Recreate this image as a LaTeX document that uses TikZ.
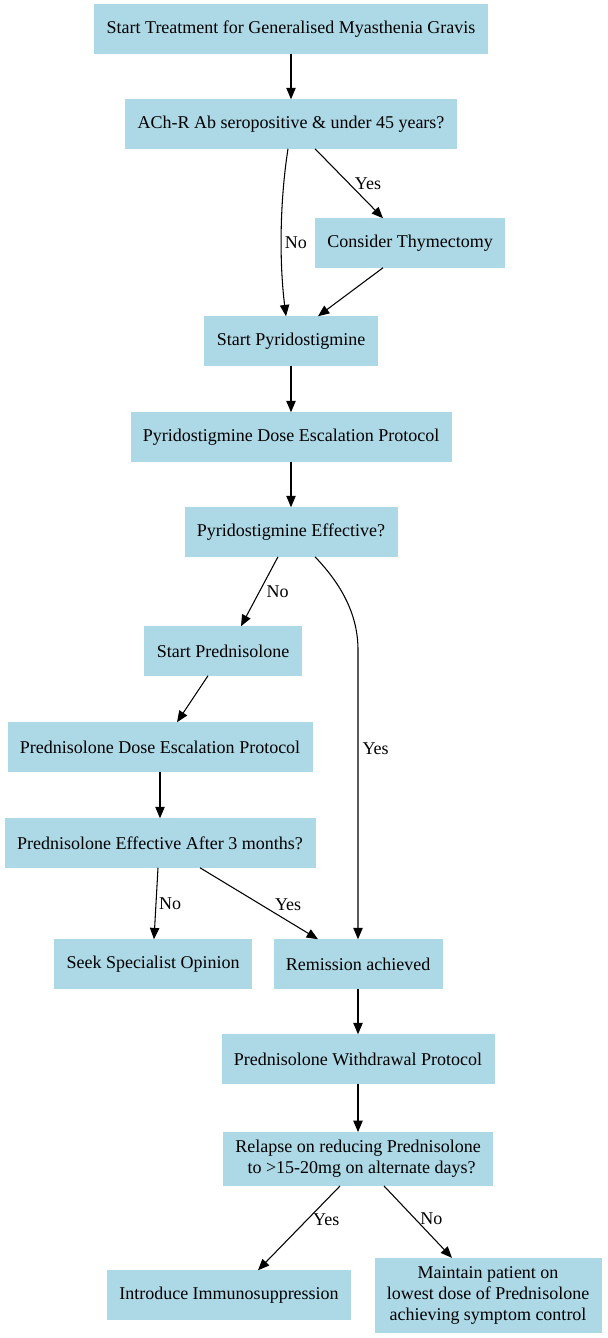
\documentclass[tikz,border=0pt]{standalone}
\usepackage{fontspec}
\setmainfont{Liberation Serif}
\usepackage{tikz}
\usetikzlibrary{arrows.meta, positioning, calc}

\definecolor{boxblue}{HTML}{ADD8E6}

\begin{document}
\begin{tikzpicture}[x=0.75pt, y=-0.75pt,
  font=\fontsize{13.5}{15.75}\selectfont,
  box/.style={fill=boxblue, draw=boxblue, align=center, inner xsep=9pt, inner ysep=6pt, minimum height=36.75pt},
  flow/.style={-{Triangle[length=8.5pt, width=7pt]}, line width=0.8pt},
  lbl/.style={inner sep=1pt}]
\useasboundingbox (0,0) rectangle (607,1338);

% Knoten
\node[box] (start) at (291,29) {Start Treatment for Generalised Myasthenia Gravis};
\node[box] (q1) at (291,124) {ACh-R Ab seropositive \& under 45 years?};
\node[box] (thy) at (410,243) {Consider Thymectomy};
\node[box] (pyr) at (291,341) {Start Pyridostigmine};
\node[box] (esc1) at (291,437) {Pyridostigmine Dose Escalation Protocol};
\node[box] (eff1) at (291,532) {Pyridostigmine Effective?};
\node[box] (pred) at (223,651) {Start Prednisolone};
\node[box] (esc2) at (160,747) {Prednisolone Dose Escalation Protocol};
\node[box] (eff2) at (160,843) {Prednisolone Effective After 3 months?};
\node[box] (spec) at (153,964) {Seek Specialist Opinion};
\node[box] (rem) at (358,964) {Remission achieved};
\node[box] (wd) at (358,1059) {Prednisolone Withdrawal Protocol};
\node[box] (relapse) at (358,1159) {Relapse on reducing Prednisolone\\\hspace*{0.4em}to >15-20mg on alternate days?};
\node[box] (imm) at (229,1295) {Introduce Immunosuppression};
\node[box] (maint) at (488,1295) {Maintain patient on\\lowest dose of Prednisolone\\achieving symptom control};

% Pfeile
\draw[flow] (start) -- (q1);
\draw[flow] ($(q1.south)+(-3,0)$) .. controls (280,200) and (279,260) .. ($(pyr.north)+(-5,0)$)
  node[lbl, anchor=west] at (283,243) {No};
\draw[flow] ($(q1.south)+(24,0)$) -- ($(thy.north)+(-27,0)$) node[lbl, midway, right=3pt] {Yes};
\draw[flow] ($(thy.south)+(-27,0)$) -- ($(pyr.north)+(27,0)$);
\draw[flow] (pyr) -- (esc1);
\draw[flow] (esc1) -- (eff1);
\draw[flow] ($(eff1.south)+(-13,0)$) -- ($(pred.north)+(18,0)$) node[lbl, midway, right=4pt] {No};
\draw[flow] ($(eff1.south)+(24,0)$) .. controls (342,585) and (358,615) .. (358,650) -- (rem.north)
  node[lbl, pos=0.34, right=2pt] {Yes};
\draw[flow] ($(pred.south)+(-15,0)$) -- ($(esc2.north)+(17,0)$);
\draw[flow] (esc2) -- (eff2);
\draw[flow] ($(eff2.south)+(-2,0)$) -- ($(spec.north)+(1,0)$) node[lbl, midway, right=1pt] {No};
\draw[flow] ($(eff2.south)+(40,0)$) -- ($(rem.north)+(-40,0)$) node[lbl, pos=0.62, above right=0pt] {Yes};
\draw[flow] (rem) -- (wd);
\draw[flow] (wd) -- (relapse);
\draw[flow] ($(relapse.south)+(-18,0)$) -- ($(imm.north)+(29,0)$) node[lbl, pos=0.4, right=3pt] {Yes};
\draw[flow] ($(relapse.south)+(26,0)$) -- ($(maint.north)+(-36,0)$) node[lbl, pos=0.45, right=3pt] {No};
\end{tikzpicture}
\end{document}
